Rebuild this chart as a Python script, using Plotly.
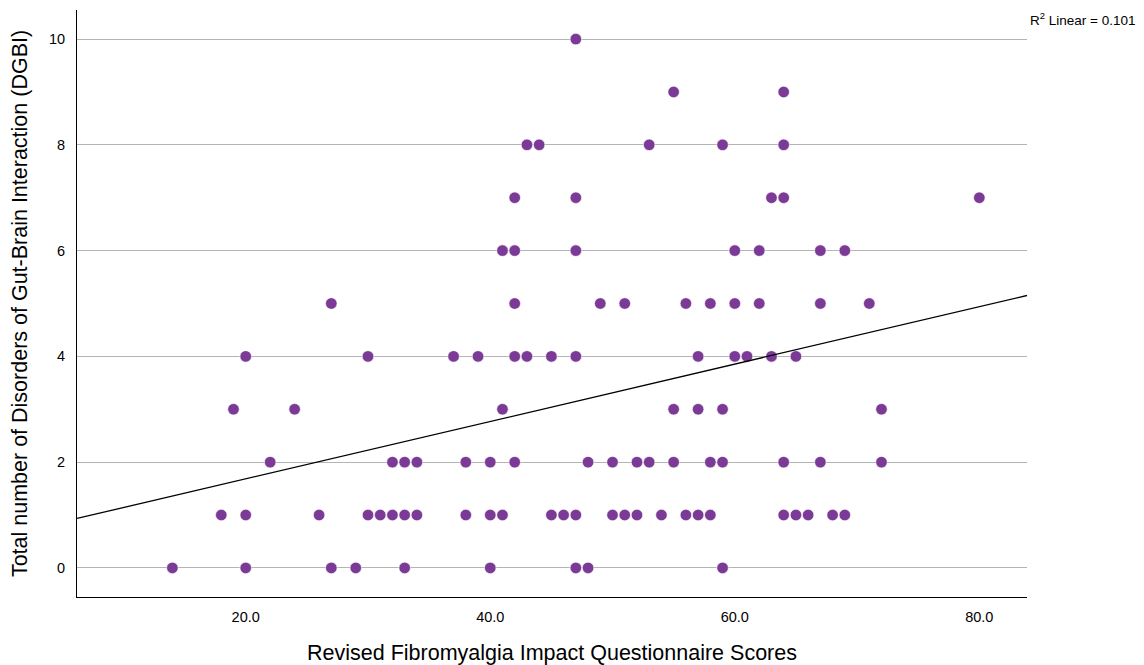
import numpy as np
import plotly.graph_objects as go

# FIQR score values grouped by DGBI count
fiqr_by_dgbi = {
    0: [14, 20, 27, 29, 33, 40, 47, 48, 59],
    1: [18, 20, 26, 30, 31, 32, 33, 34, 38, 40, 41, 45, 46, 47, 50, 51, 52, 54,
        56, 57, 58, 64, 65, 66, 68, 69],
    2: [22, 32, 33, 34, 38, 40, 42, 48, 50, 52, 53, 55, 58, 59, 64, 67, 72],
    3: [19, 24, 41, 55, 57, 59, 72],
    4: [20, 30, 37, 39, 42, 43, 45, 47, 57, 60, 61, 63, 65],
    5: [27, 42, 49, 51, 56, 58, 60, 62, 67, 71],
    6: [41, 42, 47, 60, 62, 67, 69],
    7: [42, 47, 63, 64, 80],
    8: [43, 44, 53, 59, 64],
    9: [55, 64],
    10: [47],
}

fiqr = []
dgbi = []
for k, xs in fiqr_by_dgbi.items():
    for v in xs:
        fiqr.append(v)
        dgbi.append(k)
fiqr = np.array(fiqr, dtype=float)
dgbi = np.array(dgbi, dtype=float)

x_range = [6.2, 83.9]
y_range = [-0.55, 10.55]
x_ticks = [20, 40, 60, 80]
x_tick_labels = ["20.0", "40.0", "60.0", "80.0"]
y_ticks = [0, 2, 4, 6, 8, 10]
r2_text = "R<sup>2</sup> Linear = 0.101"

slope, intercept = np.polyfit(fiqr, dgbi, 1)
line_x = np.array(x_range)
line_y = intercept + slope * line_x

fig = go.Figure()
fig.add_trace(go.Scatter(
    x=fiqr, y=dgbi, mode="markers",
    marker=dict(size=11.5, color="#7B3A96", line=dict(width=0.6, color="white")),
    showlegend=False, hoverinfo="x+y"))
fig.add_trace(go.Scatter(
    x=line_x, y=line_y, mode="lines",
    line=dict(color="black", width=1.3), showlegend=False, hoverinfo="skip"))

# page body adds an 8px offset, so the figure is sized/margined to compensate
fig.update_layout(
    width=1136, height=657,
    margin=dict(l=69, r=117, t=2, b=68),
    paper_bgcolor="white", plot_bgcolor="white",
    font=dict(family="Liberation Sans, Arial, sans-serif", color="black", size=14),
    xaxis=dict(range=x_range, tickvals=x_ticks, ticktext=x_tick_labels,
               automargin=False,
               showgrid=False, zeroline=False, showline=True, linecolor="black",
               linewidth=1, ticks="", ticklen=0, ticklabelstandoff=7,
               tickfont=dict(size=14.5),
               title=dict(text="Revised Fibromyalgia Impact Questionnaire Scores",
                          font=dict(size=21.5), standoff=24)),
    yaxis=dict(range=y_range, tickvals=y_ticks,
               automargin=False,
               showgrid=True, gridcolor="#b4b4b4", gridwidth=1,
               zeroline=False, showline=True, linecolor="black", linewidth=1,
               ticks="", ticklen=0, ticklabelstandoff=8,
               tickfont=dict(size=14.5),
               title=dict(text="Total number of Disorders of Gut-Brain Interaction (DGBI)",
                          font=dict(size=21.5), standoff=18)),
    annotations=[dict(text=r2_text, xref="paper", yref="paper", x=1.0, y=0.985,
                      xanchor="left", yanchor="middle", showarrow=False,
                      xshift=1, font=dict(size=13.5))],
)

fig.write_html("out.html")
